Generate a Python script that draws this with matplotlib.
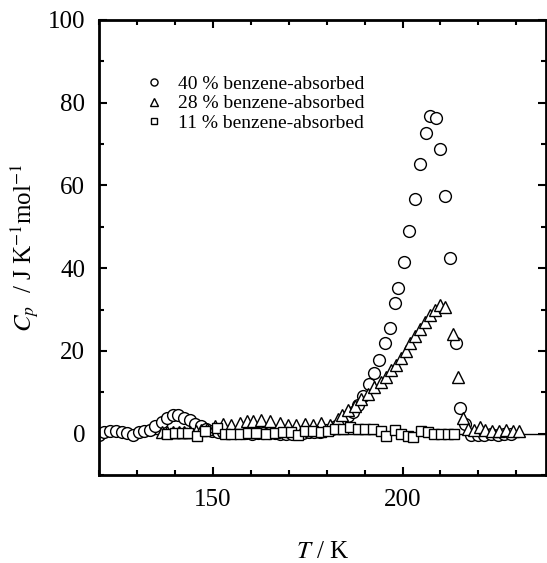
import matplotlib
matplotlib.use('Agg')
import matplotlib.pyplot as plt
from matplotlib.ticker import MultipleLocator

plt.rcParams['font.family'] = ['Liberation Serif', 'DejaVu Serif']
plt.rcParams['mathtext.fontset'] = 'stix'

# ---- data (T in K, Cp in J K-1 mol-1) ----
T_40 = [120.0, 121.3, 122.9, 124.4, 126.0, 127.4, 129.0, 130.5, 131.9, 133.4,
        134.7, 136.5, 137.8, 139.4, 140.9, 142.4, 144.0, 145.4, 146.8, 148.3,
        149.8, 151.3, 152.8, 154.3, 155.8, 157.3, 158.8, 160.3, 161.8, 163.3,
        164.8, 166.3, 167.8, 169.3, 170.8, 172.3, 173.8, 175.3, 176.8, 178.3,
        179.8, 181.3, 182.6, 183.9, 185.6, 186.9, 188.2, 189.7, 191.1, 192.4,
        193.8, 195.3, 196.6, 197.9, 198.8, 200.3, 201.8, 203.4, 204.7, 206.1,
        207.3, 208.7, 209.9, 211.3, 212.6, 214.0, 215.2, 216.6, 218.1, 219.8,
        221.6, 223.4, 225.1, 226.8, 228.6]
Cp_40 = [-0.3, 0.3, 0.6, 0.6, 0.3, 0.1, -0.3, 0.3, 0.7, 1.0,
         1.9, 2.9, 3.7, 4.5, 4.5, 3.9, 3.3, 2.3, 1.8, 1.1,
         0.6, 0.4, 0.3, 0.2, 0.2, 0.1, 0.1, 0.0, 0.1, 0.2,
         0.2, 0.1, 0.0, -0.1, 0.0, 0.1, 0.2, 0.3, 0.4, 0.5,
         0.8, 1.2, 1.8, 2.7, 4.2, 5.2, 6.9, 9.2, 11.9, 14.6,
         17.7, 22.0, 25.5, 31.6, 35.3, 41.6, 49.0, 56.8, 65.1, 72.7,
         76.8, 76.2, 68.8, 57.5, 42.5, 22.0, 6.1, 2.4, -0.3, -0.3,
         -0.3, -0.2, -0.3, -0.2, 0.0]

T_28 = [136.5, 138.0, 139.5, 141.0, 142.5, 144.0, 145.5, 147.0, 148.5,
        150.5, 152.7, 154.9, 157.1, 158.9, 160.6, 162.8, 165.0, 167.6, 169.8,
        172.0, 174.2, 176.4, 178.6, 180.8,
        183.0, 184.1, 185.6, 187.4, 189.1, 190.9, 192.6, 194.4, 195.7, 197.0, 198.3,
        199.5, 200.8, 202.1, 203.4, 204.7, 206.0, 207.3, 208.6,
        209.9, 211.3, 213.4, 214.5, 216.0, 217.2,
        218.9, 220.3, 221.8, 223.6, 225.4, 227.2, 229.0, 230.6]
Cp_28 = [0.3, 0.5, 0.4, 0.3, 0.4, 0.5, 0.6, 0.8, 1.2,
         1.9, 2.3, 2.1, 2.6, 3.0, 3.0, 3.3, 3.0, 2.6, 2.2,
         2.1, 2.4, 2.0, 2.5, 2.2,
         3.5, 4.5, 5.6, 6.8, 8.4, 9.6, 11.2, 12.4, 13.6, 15.3, 16.5,
         18.4, 20.0, 21.8, 23.6, 25.2, 27.0, 28.6, 29.9,
         31.0, 30.6, 24.0, 13.8, 3.9, 1.2,
         1.0, 1.5, 0.9, 0.7, 0.6, 0.8, 0.7, 0.6]

T_11 = [138.0, 140.0, 141.8, 143.5, 145.7, 147.9, 151.0, 153.2, 154.9, 157.1,
        159.3, 161.5, 164.1, 166.3, 168.5, 170.7, 172.4, 174.4, 176.4, 178.4,
        180.4, 182.3, 184.3, 186.2, 188.2, 190.2, 192.2, 194.4, 195.7, 197.9,
        199.6, 201.4, 202.7, 204.9, 206.7, 208.4, 210.2, 211.9, 213.7]
Cp_11 = [0.0, 0.1, 0.1, 0.1, -0.5, 0.7, 1.4, -0.1, -0.1, -0.1,
         0.1, 0.1, -0.1, 0.1, 0.5, 0.3, -0.3, 0.7, 0.7, 0.3,
         0.7, 1.1, 1.1, 1.5, 1.1, 1.1, 1.1, 0.7, -0.5, 0.9,
         -0.2, -0.5, -0.9, 0.6, 0.3, -0.2, -0.1, -0.1, -0.1]

labels = ['40 % benzene-absorbed', '28 % benzene-absorbed', '11 % benzene-absorbed']

fig = plt.figure(figsize=(5.47, 5.63), dpi=100)
ax = fig.add_axes([0.181, 0.1563, 0.817, 0.8082])

ax.axhline(0, color='k', lw=1, zorder=1)

mk = dict(ls='none', mfc='white', mec='k', mew=1.0, zorder=2)
ax.plot(T_40, Cp_40, marker='o', ms=8.5, label=labels[0], **mk)
ax.plot(T_28, Cp_28, marker='^', ms=9, label=labels[1], **mk)
ax.plot(T_11, Cp_11, marker='s', ms=7.5, label=labels[2], **mk)

ax.set_xlim(120, 237.8)
ax.set_ylim(-10, 100)
ax.xaxis.set_major_locator(MultipleLocator(50))
ax.xaxis.set_minor_locator(MultipleLocator(10))
ax.yaxis.set_major_locator(MultipleLocator(20))
ax.yaxis.set_minor_locator(MultipleLocator(10))
ax.tick_params(which='both', direction='in', top=True, right=True, labelsize=18)
ax.tick_params(which='major', length=6, width=1.5, pad=10)
ax.tick_params(which='minor', length=3.5, width=1.5)
for s in ax.spines.values():
    s.set_linewidth(2)

ax.set_xlabel('$T$ / K', fontsize=18, labelpad=22)
ax.set_ylabel('$C_p$  / J K$^{-1}$mol$^{-1}$', fontsize=18, labelpad=4)

ax.legend(loc='upper left', bbox_to_anchor=(0.08, 0.9), frameon=False,
          fontsize=14, markerscale=0.6, handlelength=1.0, handletextpad=0.7,
          labelspacing=0.1, borderpad=0)

fig.savefig('out.png', dpi=100)
